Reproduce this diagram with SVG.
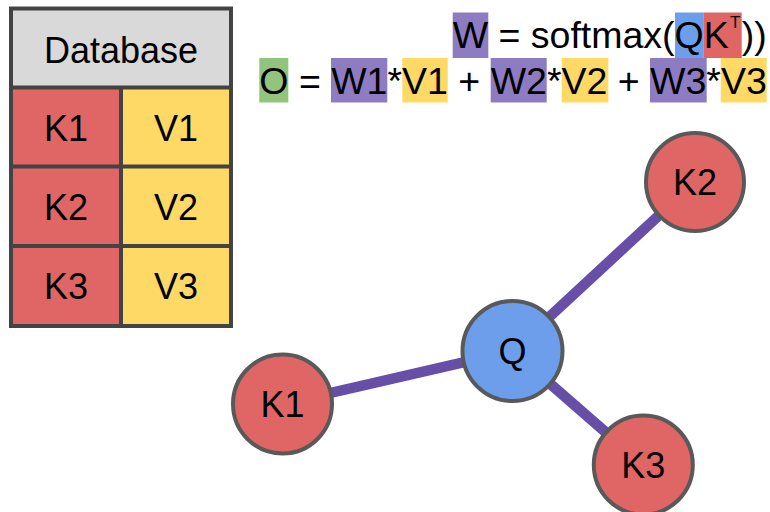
<svg xmlns="http://www.w3.org/2000/svg" width="770" height="512" viewBox="0 0 770 512">
  <style>
    text { font-family: "Liberation Sans", Arial, sans-serif; fill: #000; }
    .cell-text { font-size: 36px; text-anchor: middle; }
    .node-text { font-size: 36px; text-anchor: middle; }
    .eq { font-size: 37.5px; }
    .sup { font-size: 17px; }
    .grid { fill: none; stroke: #434343; stroke-width: 4; }
    .key { fill: #e06666; }
    .val { fill: #ffd966; }
    .hdr { fill: #d9d9d9; }
    .node-circle { stroke: #595959; stroke-width: 4; }
    .edge { stroke: #674ea7; stroke-width: 10.5; fill: none; }
    .hl-w { fill: #8e7cc3; }
    .hl-v { fill: #ffd966; }
    .hl-q { fill: #6d9eeb; }
    .hl-k { fill: #e06666; }
    .hl-o { fill: #93c47d; }
  </style>

  <!-- key/value table -->
  <g id="database">
    <rect class="hdr" x="11" y="8.5" width="220" height="79"/>
    <rect class="key" x="11" y="87.5" width="110" height="79"/>
    <rect class="val" x="121" y="87.5" width="110" height="79"/>
    <rect class="key" x="11" y="166.5" width="110" height="79.5"/>
    <rect class="val" x="121" y="166.5" width="110" height="79.5"/>
    <rect class="key" x="11" y="246" width="110" height="80"/>
    <rect class="val" x="121" y="246" width="110" height="80"/>
    <rect class="grid" x="11" y="8.5" width="220" height="317.5"/>
    <path class="grid" d="M11 87.5H231M11 166.5H231M11 246H231M121 87.5V326"/>
    <text class="cell-text" x="121" y="63">Database</text>
    <text class="cell-text" x="66" y="141">K1</text>
    <text class="cell-text" x="176" y="141">V1</text>
    <text class="cell-text" x="66" y="220">K2</text>
    <text class="cell-text" x="176" y="220">V2</text>
    <text class="cell-text" x="66" y="299">K3</text>
    <text class="cell-text" x="176" y="299">V3</text>
  </g>

  <!-- attention formulas -->
  <g id="formulas">
    <rect class="hl-w" x="452.7" y="12.5" width="35.6" height="45.5"/>
    <rect class="hl-q" x="675" y="12.5" width="28.3" height="45.5"/>
    <rect class="hl-k" x="703.3" y="12.5" width="38.4" height="45.5"/>
    <text class="eq" x="452.7" y="47.5">W = softmax(QK</text>
    <text class="sup" x="730" y="28">T</text>
    <text class="eq" x="741.7" y="47.5">))</text>

    <rect class="hl-o" x="259.3" y="58" width="29" height="44.5"/>
    <rect class="hl-w" x="331" y="58" width="56.3" height="44.5"/>
    <rect class="hl-v" x="402.3" y="58" width="45.4" height="44.5"/>
    <rect class="hl-w" x="490.7" y="58" width="56" height="44.5"/>
    <rect class="hl-v" x="561.7" y="58" width="46.6" height="44.5"/>
    <rect class="hl-w" x="650" y="58" width="56.7" height="44.5"/>
    <rect class="hl-v" x="720.7" y="58" width="46" height="44.5"/>
    <text class="eq" x="259.3" y="93.5">O = W1*V1 + W2*V2 + W3*V3</text>
  </g>

  <!-- query-to-key links -->
  <g id="edges">
    <line class="edge" x1="512.5" y1="351" x2="282.5" y2="404"/>
    <line class="edge" x1="512.5" y1="351" x2="695" y2="182"/>
    <line class="edge" x1="512.5" y1="351" x2="643.3" y2="465"/>
  </g>

  <g id="node-q">
    <circle class="node-circle" cx="512.5" cy="351" r="50" fill="#6d9eeb"/>
    <text class="node-text" x="512.5" y="364">Q</text>
  </g>
  <g id="node-k1">
    <circle class="node-circle" cx="282.5" cy="404" r="49.5" fill="#e06666"/>
    <text class="node-text" x="282.5" y="417">K1</text>
  </g>
  <g id="node-k2">
    <circle class="node-circle" cx="695" cy="182" r="49" fill="#e06666"/>
    <text class="node-text" x="695" y="195">K2</text>
  </g>
  <g id="node-k3">
    <circle class="node-circle" cx="643.3" cy="465" r="49.5" fill="#e06666"/>
    <text class="node-text" x="643.3" y="478">K3</text>
  </g>
</svg>
